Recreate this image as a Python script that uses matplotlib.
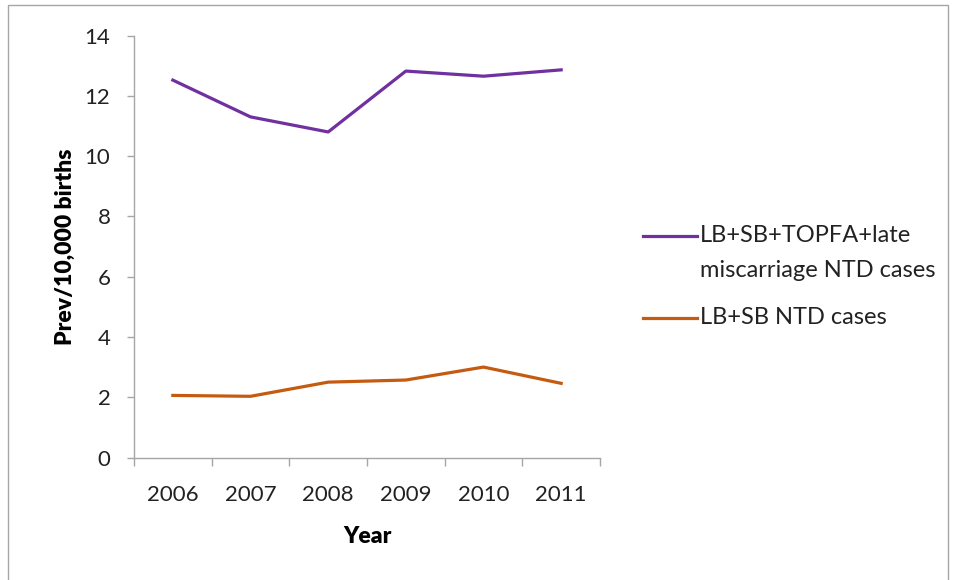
import matplotlib
matplotlib.use("Agg")
import matplotlib.pyplot as plt
from matplotlib.patches import Rectangle
from matplotlib.lines import Line2D
import numpy as np

years = ["2006", "2007", "2008", "2009", "2010", "2011"]
all_cases = [12.52, 11.30, 10.80, 12.82, 12.65, 12.86]
lb_sb_cases = [2.06, 2.03, 2.50, 2.57, 3.00, 2.46]
series_labels = ["LB+SB+TOPFA+late\nmiscarriage NTD cases", "LB+SB NTD cases"]
series_colors = ["#7030A0", "#C55A11"]
y_ticks = [0, 2, 4, 6, 8, 10, 12, 14]

plt.rcParams['font.family'] = ['Lato', 'DejaVu Sans']

fig = plt.figure(figsize=(9.59, 5.80), dpi=100)
ax = fig.add_axes([134/959, 1-457.5/580, (600-134)/959, (457.5-35.5)/580])

x = np.arange(len(years))
ax.plot(x, all_cases, color=series_colors[0], lw=2.3, solid_joinstyle='round')
ax.plot(x, lb_sb_cases, color=series_colors[1], lw=2.3, solid_joinstyle='round')

ax.set_xlim(-0.5, len(years) - 0.5)
ax.set_ylim(0, 14)
ax.set_yticks(y_ticks)
ax.set_yticklabels([str(v) for v in y_ticks], fontsize=16, color="#222222")
ax.set_xticks(x)
ax.set_xticklabels(years, fontsize=16, color="#222222")
ax.set_xticks(np.arange(-0.5, len(years), 1.0), minor=True)
ax.tick_params(axis='x', which='major', length=0, pad=20)
ax.tick_params(axis='x', which='minor', length=6, color="#A6A6A6", width=1)
ax.tick_params(axis='y', which='major', length=5, color="#A6A6A6", width=1, pad=12)

for s in ['top', 'right']:
    ax.spines[s].set_visible(False)
for s in ['left', 'bottom']:
    ax.spines[s].set_color("#A6A6A6")
    ax.spines[s].set_linewidth(1)

ax.set_ylabel("Prev/10,000 births", fontsize=16.5, fontweight='heavy', labelpad=6)
ax.set_xlabel("Year", fontsize=16.5, fontweight='heavy', labelpad=15)

# legend (drawn manually to match the reference layout)
legend_rows = [(236, 236), (318, 318)]
for (line_y, text_y), lab, col in zip(legend_rows, series_labels, series_colors):
    fig.add_artist(Line2D([643/959, 697/959], [1-line_y/580, 1-line_y/580],
                          transform=fig.transFigure, color=col, lw=2.3))
    fig.text(700/959, 1-(text_y-11)/580, lab, fontsize=17, color="#222222",
             va='top', ha='left', linespacing=1.8)

fig.patches.append(Rectangle((8/959, -0.1), (948-8)/959, 1.1 - 5/580,
                             transform=fig.transFigure, fill=False,
                             edgecolor="#A6A6A6", linewidth=1))

fig.savefig("out.png", dpi=100)
